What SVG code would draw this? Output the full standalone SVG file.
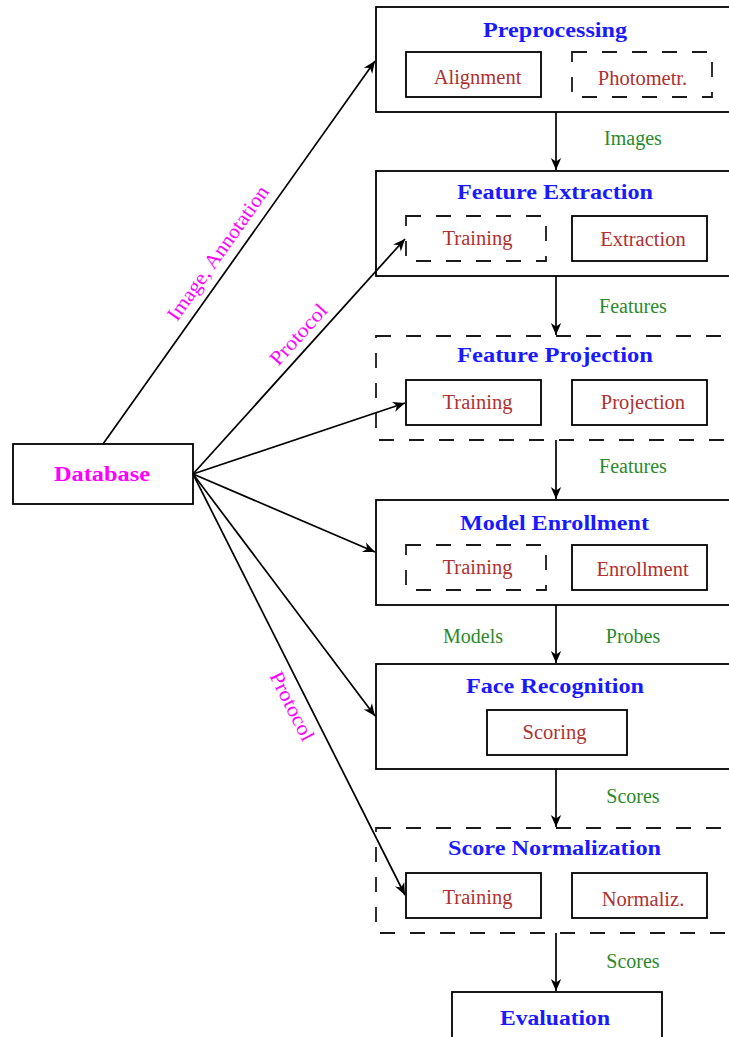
<svg xmlns="http://www.w3.org/2000/svg" width="729" height="1037" viewBox="0 0 729 1037">
<style>
.box{fill:none;stroke:#000;stroke-width:1.8}
.dash{fill:none;stroke:#1a1a1a;stroke-width:1.8;stroke-dasharray:15 15}
.title{font-family:"Liberation Serif",serif;font-weight:bold;font-size:20px;fill:#1a1aff;text-anchor:middle}
.sub{font-family:"Liberation Serif",serif;font-size:20.5px;fill:#b03030;text-anchor:middle}
.lbl{font-family:"Liberation Serif",serif;font-size:20px;fill:#2a8a2a;text-anchor:middle}
.mag{font-family:"Liberation Serif",serif;font-size:20.5px;fill:#ff00ff;text-anchor:middle}
.db{font-family:"Liberation Serif",serif;font-weight:bold;font-size:20px;fill:#ff00ff;text-anchor:middle}
.edge{fill:none;stroke:#000;stroke-width:1.7;marker-end:url(#arr)}
</style>
<defs>
<marker id="arr" markerUnits="userSpaceOnUse" markerWidth="15" markerHeight="13" viewBox="-13 -6.5 15 13" refX="0" refY="0" orient="auto">
<path d="M0,0 L-12,-5.2 L-8.5,0 L-12,5.2 Z" fill="#000"/>
</marker>
</defs>
<rect width="729" height="1037" fill="#fff"/>

<g id="connectors">
<line class="edge" x1="103" y1="444" x2="375" y2="61"/>
<line class="edge" x1="193" y1="474" x2="405" y2="239"/>
<line class="edge" x1="193" y1="474" x2="405" y2="403"/>
<line class="edge" x1="193" y1="474" x2="375" y2="552"/>
<line class="edge" x1="193" y1="474" x2="375" y2="716"/>
<line class="edge" x1="193" y1="474" x2="405" y2="895"/>
<line class="edge" x1="556" y1="112" x2="556" y2="170"/>
<line class="edge" x1="556" y1="276" x2="556" y2="335"/>
<line class="edge" x1="556" y1="440" x2="556" y2="499"/>
<line class="edge" x1="556" y1="605" x2="556" y2="663"/>
<line class="edge" x1="556" y1="769" x2="556" y2="827"/>
<line class="edge" x1="556" y1="933" x2="556" y2="991"/>
<text class="lbl" x="633" y="145">Images</text>
<text class="lbl" x="633" y="313">Features</text>
<text class="lbl" x="633" y="473">Features</text>
<text class="lbl" x="473" y="643">Models</text>
<text class="lbl" x="633" y="643">Probes</text>
<text class="lbl" x="633" y="803">Scores</text>
<text class="lbl" x="633" y="968">Scores</text>
<text class="mag" transform="translate(218.5,253.5) rotate(-54.6)" x="0" y="6" textLength="160" lengthAdjust="spacingAndGlyphs">Image, Annotation</text>
<text class="mag" transform="translate(299,335) rotate(-47.9)" x="0" y="6" textLength="75" lengthAdjust="spacingAndGlyphs">Protocol</text>
<text class="mag" transform="translate(291.5,706.5) rotate(63.2)" x="0" y="6" textLength="75" lengthAdjust="spacingAndGlyphs">Protocol</text>
</g>

<g id="database">
<rect class="box" x="13" y="444" width="180" height="60"/>
<text class="db" x="102" y="481" textLength="96" lengthAdjust="spacingAndGlyphs">Database</text>
</g>

<g id="preprocessing">
<rect class="box" x="376" y="7" width="362" height="105"/>
<text class="title" x="555" y="37" textLength="144" lengthAdjust="spacingAndGlyphs">Preprocessing</text>
<rect class="box" x="406" y="52" width="135" height="45"/>
<text class="sub" x="477.5" y="84">Alignment</text>
<rect class="dash" x="572" y="52" width="140" height="45"/>
<text class="sub" x="642.5" y="85">Photometr.</text>
</g>

<g id="feature-extraction">
<rect class="box" x="376" y="171" width="362" height="105"/>
<text class="title" x="555" y="199" textLength="196" lengthAdjust="spacingAndGlyphs">Feature Extraction</text>
<rect class="dash" x="406" y="216" width="140" height="45"/>
<text class="sub" x="477.5" y="245">Training</text>
<rect class="box" x="572" y="216" width="135" height="45"/>
<text class="sub" x="643" y="246">Extraction</text>
</g>

<g id="feature-projection">
<rect class="dash" x="376" y="336" width="362" height="104"/>
<text class="title" x="555" y="362" textLength="196" lengthAdjust="spacingAndGlyphs">Feature Projection</text>
<rect class="box" x="406" y="380" width="135" height="45"/>
<text class="sub" x="477.5" y="409">Training</text>
<rect class="box" x="572" y="380" width="135" height="45"/>
<text class="sub" x="643" y="409">Projection</text>
</g>

<g id="model-enrollment">
<rect class="box" x="376" y="500" width="362" height="105"/>
<text class="title" x="554.5" y="530" textLength="189" lengthAdjust="spacingAndGlyphs">Model Enrollment</text>
<rect class="dash" x="406" y="545" width="140" height="45"/>
<text class="sub" x="477.5" y="574">Training</text>
<rect class="box" x="572" y="545" width="135" height="45"/>
<text class="sub" x="642.5" y="576">Enrollment</text>
</g>

<g id="face-recognition">
<rect class="box" x="376" y="664" width="362" height="105"/>
<text class="title" x="555" y="693" textLength="178" lengthAdjust="spacingAndGlyphs">Face Recognition</text>
<rect class="box" x="487" y="710" width="140" height="45"/>
<text class="sub" x="554.5" y="739">Scoring</text>
</g>

<g id="score-normalization">
<rect class="dash" x="376" y="828" width="362" height="105"/>
<text class="title" x="554.5" y="855" textLength="213" lengthAdjust="spacingAndGlyphs">Score Normalization</text>
<rect class="box" x="406" y="873" width="135" height="45"/>
<text class="sub" x="477.5" y="904">Training</text>
<rect class="box" x="572" y="873" width="135" height="45"/>
<text class="sub" x="643" y="906">Normaliz.</text>
</g>

<g id="evaluation">
<rect class="box" x="452" y="992" width="210" height="60"/>
<text class="title" x="555" y="1025" textLength="110" lengthAdjust="spacingAndGlyphs">Evaluation</text>
</g>
</svg>
